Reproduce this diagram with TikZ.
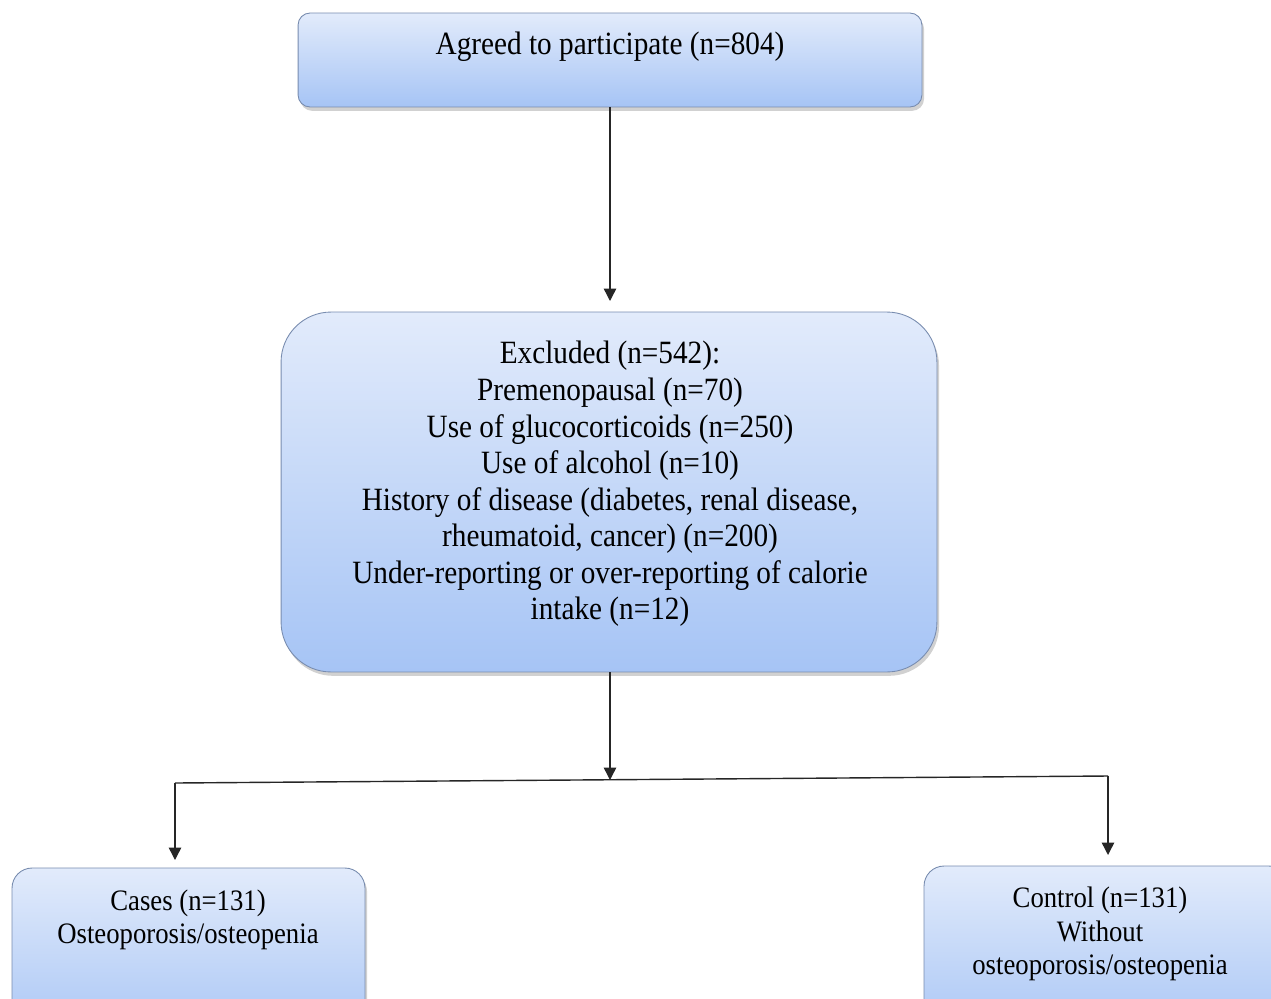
\documentclass[tikz,border=0pt]{standalone}
\usepackage{fontspec}
\setmainfont{Liberation Serif}[FakeStretch=0.9]
\usetikzlibrary{arrows.meta,shadows}
\definecolor{boxtop}{RGB}{226,235,251}
\definecolor{boxbot}{RGB}{166,196,245}
\definecolor{boxline}{RGB}{120,140,175}
\begin{document}
\begin{tikzpicture}[x=0.02cm,y=-0.02cm,
  box/.style={draw=boxline, line width=0.5pt, top color=boxtop, bottom color=boxbot,
    inner sep=0pt, rectangle,
    drop shadow={shadow xshift=1.2pt, shadow yshift=-2.2pt, opacity=0.3, fill=black!60}},
  bigtxt/.style={align=center, inner sep=0pt, font=\fontsize{18.5pt}{20.8pt}\selectfont},
  smalltxt/.style={align=center, inner sep=0pt, font=\fontsize{16.9pt}{19.1pt}\selectfont},
  conn/.style={line width=0.8pt, draw=black!85},
  arr/.style={conn, -{Triangle[width=7pt,length=7pt]}}]
\useasboundingbox (0,0) rectangle (1271,998);
% boxes
\node[box, minimum width=12.48cm, minimum height=1.88cm, rounded corners=0.24cm] (top) at (610,60) {};
\node[box, minimum width=13.12cm, minimum height=7.2cm, rounded corners=1cm] (mid) at (609,492) {};
\node[box, minimum width=7.06cm, minimum height=3.6cm, rounded corners=0.4cm] (left) at (188.5,958) {};
\node[box, minimum width=7.3cm, minimum height=3.6cm, rounded corners=0.4cm] (right) at (1106.5,956) {};
% texts
\node[bigtxt] (ttop) at (610,47) {Agreed to participate (n=804)};
\node[bigtxt] (tmid) at (610,484) {Excluded (n=542):\\Premenopausal (n=70)\\Use of glucocorticoids (n=250)\\Use of alcohol (n=10)\\History of disease (diabetes, renal disease,\\rheumatoid, cancer) (n=200)\\Under-reporting or over-reporting of calorie\\intake (n=12)};
\node[smalltxt] (tleft) at (188,920) {Cases (n=131)\\Osteoporosis/osteopenia};
\node[smalltxt] (tright) at (1100,934) {Control (n=131)\\Without\\osteoporosis/osteopenia};
% connectors
\coordinate (split) at (610,780);
\coordinate (hl) at (175,783);
\coordinate (hr) at (1108,776);
\coordinate (lend) at (175,860);
\coordinate (rend) at (1108,855);
\draw[arr] (top.south) -- (610,301);
\draw[arr] (mid.south -| split) -- (split);
\draw[conn] (hl) -- (hr);
\draw[arr] (hl) -- (lend);
\draw[arr] (hr) -- (rend);
\end{tikzpicture}
\end{document}
